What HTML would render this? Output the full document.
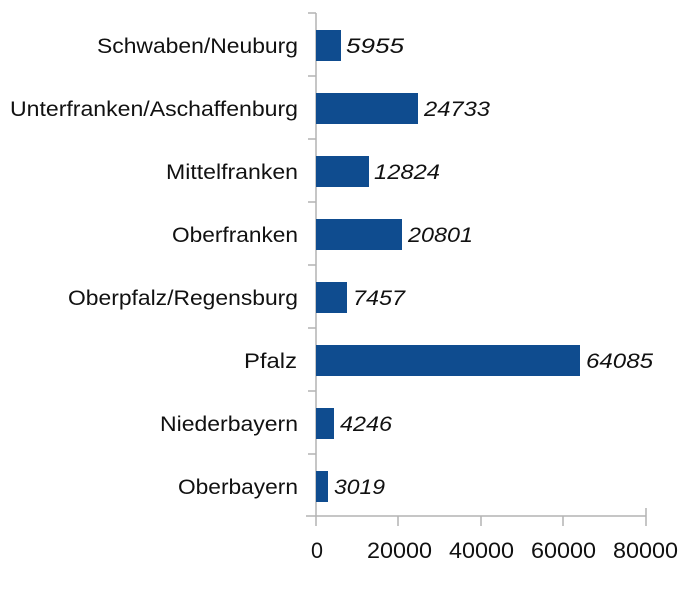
<!DOCTYPE html>
<html><head><meta charset="utf-8"><style>body{margin:0;background:#fff}</style></head><body>
<svg width="686" height="599" xmlns="http://www.w3.org/2000/svg" font-family="Liberation Sans, sans-serif">
<g stroke="#b3b3b3" stroke-width="1.5">
<line x1="316" y1="13" x2="316" y2="526"/>
<line x1="306" y1="516" x2="646" y2="516"/>
<line x1="398" y1="516" x2="398" y2="526"/>
<line x1="481" y1="516" x2="481" y2="526"/>
<line x1="563" y1="516" x2="563" y2="526"/>
<line x1="646" y1="508" x2="646" y2="526"/>
<line x1="308" y1="13" x2="316" y2="13"/>
<line x1="308" y1="76" x2="316" y2="76"/>
<line x1="308" y1="139" x2="316" y2="139"/>
<line x1="308" y1="202" x2="316" y2="202"/>
<line x1="308" y1="265" x2="316" y2="265"/>
<line x1="308" y1="328" x2="316" y2="328"/>
<line x1="308" y1="391" x2="316" y2="391"/>
<line x1="308" y1="454" x2="316" y2="454"/>
</g>
<g fill="#0f4c8f">
<rect x="316" y="30" width="25" height="31"/>
<rect x="316" y="93" width="102" height="31"/>
<rect x="316" y="156" width="53" height="31"/>
<rect x="316" y="219" width="86" height="31"/>
<rect x="316" y="282" width="31" height="31"/>
<rect x="316" y="345" width="264" height="31"/>
<rect x="316" y="408" width="18" height="31"/>
<rect x="316" y="471" width="12" height="31"/>
</g>
<g font-size="21" fill="#111" lengthAdjust="spacingAndGlyphs">
<text x="97" y="53" textLength="201" lengthAdjust="spacingAndGlyphs">Schwaben/Neuburg</text>
<text x="10" y="116" textLength="288" lengthAdjust="spacingAndGlyphs">Unterfranken/Aschaffenburg</text>
<text x="166" y="179" textLength="132" lengthAdjust="spacingAndGlyphs">Mittelfranken</text>
<text x="172" y="242" textLength="126" lengthAdjust="spacingAndGlyphs">Oberfranken</text>
<text x="68" y="305" textLength="230" lengthAdjust="spacingAndGlyphs">Oberpfalz/Regensburg</text>
<text x="244" y="368" textLength="53" lengthAdjust="spacingAndGlyphs">Pfalz</text>
<text x="160" y="431" textLength="138" lengthAdjust="spacingAndGlyphs">Niederbayern</text>
<text x="178" y="494" textLength="120" lengthAdjust="spacingAndGlyphs">Oberbayern</text>
</g>
<g font-size="21" font-style="italic" fill="#111">
<text x="346" y="53" textLength="58" lengthAdjust="spacingAndGlyphs">5955</text>
<text x="424" y="116" textLength="66" lengthAdjust="spacingAndGlyphs">24733</text>
<text x="374" y="179" textLength="66" lengthAdjust="spacingAndGlyphs">12824</text>
<text x="408" y="242" textLength="65" lengthAdjust="spacingAndGlyphs">20801</text>
<text x="353" y="305" textLength="52" lengthAdjust="spacingAndGlyphs">7457</text>
<text x="586" y="368" textLength="67" lengthAdjust="spacingAndGlyphs">64085</text>
<text x="340" y="431" textLength="52" lengthAdjust="spacingAndGlyphs">4246</text>
<text x="334" y="494" textLength="51" lengthAdjust="spacingAndGlyphs">3019</text>
</g>
<g font-size="22" fill="#111">
<text x="311" y="558" textLength="12" lengthAdjust="spacingAndGlyphs">0</text>
<text x="367" y="558" textLength="65" lengthAdjust="spacingAndGlyphs">20000</text>
<text x="449" y="558" textLength="65" lengthAdjust="spacingAndGlyphs">40000</text>
<text x="531" y="558" textLength="65" lengthAdjust="spacingAndGlyphs">60000</text>
<text x="613" y="558" textLength="65" lengthAdjust="spacingAndGlyphs">80000</text>
</g>
</svg>
</body></html>
